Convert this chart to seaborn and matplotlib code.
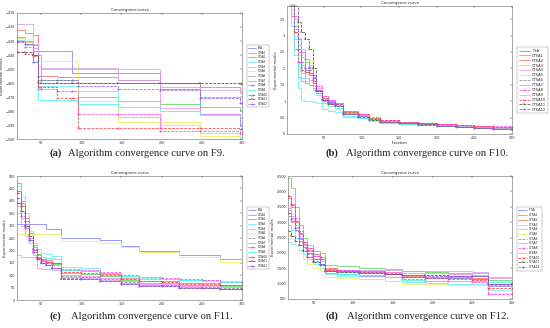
import matplotlib
matplotlib.use('Agg')
import matplotlib.pyplot as plt
import seaborn as sns
from matplotlib.ticker import FuncFormatter

names = ['TSA', 'CTSA1', 'CTSA2', 'CTSA3', 'CTSA4', 'CTSA5', 'CTSA6',
         'CTSA7', 'CTSA8', 'CTSA9', 'CTSA10', 'CTSA11', 'CTSA12']

# F9: step curves, value holds from each iteration until the next
f9_iter = [20, 30, 40, 46, 50, 70, 88, 96, 146, 198, 248, 297, 300]
f9_values = [
    [-430, -431, -437, -437, -437, -437, -453, -453, -453, -464, -482, -491, -491],
    [-427, -430, -433, -458, -458, -458, -458, -470, -473, -475, -477, -480, -480],
    [-422, -424, -426, -440, -455, -456, -456, -456, -458, -460, -463, -466, -466],
    [-429, -432, -440, -462, -462, -462, -462, -466, -484, -490, -496, -499, -499],
    [-428, -430, -435, -448, -450, -450, -450, -450, -450, -478, -482, -485, -485],
    [-428, -431, -444, -444, -444, -444, -444, -473, -488, -488, -498, -498, -498],
    [-430, -432, -440, -460, -460, -460, -460, -460, -460, -460, -470, -472, -472],
    [-418, -418, -432, -449, -449, -449, -449, -449, -458, -463, -465, -467, -467],
    [-431, -434, -440, -464, -464, -466, -466, -482, -482, -494, -494, -496, -496],
    [-430, -433, -445, -472, -472, -472, -472, -475, -477, -480, -483, -484, -484],
    [-438, -439, -441, -463, -463, -471, -471, -492, -492, -492, -492, -493, -493],
    [-438, -438, -440, -460, -460, -460, -460, -460, -460, -460, -460, -461, -461],
    [-430, -432, -445, -455, -458, -458, -458, -462, -464, -465, -471, -474, -474],
]

# F10 (values in units of 10^4)
f10_iter = [1, 6, 10, 15, 20, 25, 30, 35, 40, 48, 56, 65, 75, 95, 110, 125,
            150, 175, 200, 225, 250, 275, 300]
f10_values = [
    [4.2, 3.9, 3.2, 2.5, 2.1, 1.9, 1.8, 1.55, 1.3, 1.05, 0.95, 0.85, 0.62, 0.55, 0.45, 0.38, 0.33, 0.3, 0.26, 0.24, 0.2, 0.17, 0.15],
    [4.2, 4.0, 3.3, 2.7, 2.35, 2.2, 2.0, 1.7, 1.35, 1.1, 0.98, 0.9, 0.66, 0.57, 0.47, 0.4, 0.35, 0.3, 0.27, 0.24, 0.21, 0.18, 0.16],
    [4.2, 3.6, 2.6, 1.75, 1.6, 1.55, 1.5, 1.4, 1.25, 1.0, 0.92, 0.85, 0.6, 0.55, 0.46, 0.38, 0.33, 0.29, 0.25, 0.23, 0.2, 0.17, 0.15],
    [4.2, 3.3, 2.4, 1.4, 1.05, 1.02, 1.0, 0.98, 0.95, 0.75, 0.7, 0.68, 0.52, 0.48, 0.4, 0.34, 0.3, 0.26, 0.23, 0.21, 0.17, 0.14, 0.12],
    [4.2, 4.1, 3.5, 2.9, 2.6, 2.3, 2.1, 1.75, 1.4, 1.15, 1.05, 0.95, 0.7, 0.6, 0.5, 0.42, 0.37, 0.33, 0.3, 0.27, 0.24, 0.21, 0.2],
    [4.2, 4.0, 3.4, 2.75, 2.4, 2.3, 2.2, 1.8, 1.45, 1.1, 1.0, 0.9, 0.64, 0.56, 0.48, 0.4, 0.35, 0.31, 0.27, 0.24, 0.21, 0.18, 0.16],
    [4.2, 3.8, 3.1, 2.4, 2.05, 1.95, 1.85, 1.6, 1.3, 1.05, 0.95, 0.88, 0.63, 0.55, 0.46, 0.39, 0.34, 0.3, 0.26, 0.23, 0.2, 0.17, 0.15],
    [4.2, 3.9, 3.0, 2.2, 1.85, 1.7, 1.65, 1.5, 1.3, 1.05, 0.96, 0.86, 0.63, 0.56, 0.46, 0.38, 0.34, 0.3, 0.27, 0.24, 0.21, 0.18, 0.17],
    [4.2, 4.1, 3.6, 2.9, 2.5, 2.3, 2.05, 1.8, 1.45, 1.15, 1.05, 0.95, 0.7, 0.62, 0.52, 0.44, 0.38, 0.34, 0.3, 0.28, 0.25, 0.23, 0.22],
    [4.2, 3.7, 2.9, 2.0, 1.7, 1.6, 1.5, 1.35, 1.2, 0.95, 0.86, 0.78, 0.56, 0.5, 0.42, 0.35, 0.31, 0.27, 0.24, 0.21, 0.18, 0.15, 0.13],
    [4.2, 3.95, 3.1, 2.2, 1.95, 1.9, 1.85, 1.6, 1.35, 1.1, 1.02, 0.92, 0.68, 0.6, 0.5, 0.43, 0.37, 0.33, 0.29, 0.27, 0.24, 0.22, 0.21],
    [4.2, 4.2, 3.9, 3.4, 3.1, 2.9, 2.6, 2.0, 1.3, 1.05, 0.9, 0.85, 0.6, 0.52, 0.44, 0.37, 0.32, 0.29, 0.25, 0.22, 0.18, 0.15, 0.13],
    [4.2, 4.0, 3.3, 2.6, 2.2, 2.0, 1.95, 1.7, 1.35, 1.08, 0.98, 0.9, 0.62, 0.54, 0.45, 0.37, 0.32, 0.28, 0.25, 0.22, 0.19, 0.16, 0.14],
]

# F11
f11_iter = [20, 25, 30, 35, 40, 45, 50, 56, 63, 75, 100, 123, 150, 172, 200,
            222, 250, 272, 300]
f11_values = [
    [306, 306, 306, 306, 306, 306, 306, 288, 288, 248, 248, 241, 218, 198, 198, 181, 181, 164, 164],
    [440, 380, 320, 260, 215, 185, 165, 155, 145, 108, 104, 96, 82, 70, 68, 62, 60, 55, 55],
    [470, 400, 330, 270, 220, 180, 165, 160, 150, 120, 118, 105, 90, 78, 76, 70, 68, 62, 62],
    [460, 420, 350, 280, 230, 205, 190, 185, 178, 132, 131, 107, 95, 87, 86, 80, 79, 76, 76],
    [350, 300, 260, 230, 200, 170, 150, 140, 130, 100, 96, 88, 76, 66, 64, 58, 56, 52, 52],
    [268, 268, 265, 265, 265, 265, 265, 265, 265, 239, 239, 228, 212, 194, 194, 172, 172, 154, 154],
    [390, 350, 300, 240, 200, 175, 160, 150, 140, 95, 92, 84, 72, 62, 60, 54, 52, 48, 48],
    [380, 330, 290, 250, 180, 128, 127, 125, 120, 92, 90, 80, 70, 60, 58, 52, 50, 46, 46],
    [440, 390, 320, 250, 200, 175, 160, 155, 150, 125, 122, 112, 100, 92, 90, 84, 82, 72, 72],
    [180, 175, 172, 172, 172, 172, 172, 170, 165, 120, 118, 110, 98, 86, 84, 80, 78, 74, 74],
    [430, 380, 300, 240, 195, 170, 158, 155, 150, 112, 110, 100, 86, 76, 74, 66, 64, 60, 60],
    [390, 360, 300, 260, 205, 170, 150, 140, 130, 85, 84, 75, 64, 56, 55, 50, 48, 44, 44],
    [410, 340, 290, 240, 195, 165, 150, 140, 130, 88, 86, 78, 66, 58, 56, 50, 48, 45, 45],
]

# F12
f12_iter = [18, 22, 27, 32, 37, 42, 50, 58, 65, 80, 107, 140, 162, 190, 220,
            250, 270, 300]
f12_values = [
    [3300, 3050, 2750, 2450, 2200, 2000, 1800, 1650, 1350, 1300, 1250, 1230, 1200, 1180, 1170, 1160, 920, 920],
    [4450, 4100, 3500, 2900, 2500, 2250, 2050, 2000, 1600, 1560, 1520, 1480, 1400, 1380, 1350, 1330, 1130, 1130],
    [3800, 3500, 3000, 2600, 2300, 2100, 1900, 1800, 1500, 1450, 1420, 1380, 1250, 1220, 1200, 1180, 1000, 1000],
    [2350, 2300, 2250, 2100, 1950, 1800, 1650, 1500, 1300, 1250, 1150, 1100, 1050, 1020, 1000, 980, 780, 780],
    [3400, 3150, 2850, 2550, 2300, 2100, 1900, 1750, 1450, 1420, 1400, 1380, 1350, 1330, 1310, 1290, 1180, 1180],
    [2600, 2450, 2250, 2000, 1800, 1650, 1500, 1400, 1200, 1180, 1160, 1100, 1000, 980, 960, 940, 700, 700],
    [3200, 3000, 2700, 2400, 2150, 1950, 1750, 1650, 1400, 1380, 1330, 1300, 1200, 1180, 1170, 1160, 950, 950],
    [3450, 3200, 2900, 2600, 2350, 2150, 1950, 1800, 1480, 1450, 1440, 1430, 1420, 1410, 1400, 1380, 1200, 1200],
    [3850, 3600, 3150, 2700, 2350, 2100, 1900, 1800, 1480, 1440, 1400, 1300, 1150, 1100, 1080, 1050, 650, 650],
    [2900, 2750, 2500, 2250, 2050, 1850, 1700, 1600, 1350, 1300, 1280, 1200, 1120, 1100, 1090, 1080, 1060, 1060],
    [3850, 3550, 3050, 2650, 2350, 2150, 1950, 1850, 1450, 1400, 1370, 1320, 1200, 1170, 1150, 1120, 850, 850],
    [2700, 2550, 2400, 2250, 2050, 1850, 1700, 1600, 1400, 1380, 1350, 1320, 1280, 1270, 1260, 1250, 980, 980],
    [3300, 3100, 2800, 2500, 2250, 2050, 1800, 1650, 1420, 1400, 1370, 1330, 1280, 1260, 1250, 1240, 990, 990],
]

colors = ['#7f7fff', '#5ad65a', '#ff6b6b', '#5ff0f0', '#f08cf0', '#eded5a', '#8a8a8a',
          '#c9a0ee', '#ff40ff', '#40f5f5', '#ff4040', '#505050', '#9a5af0']
markers = [None, None, None, None, None, None, None, None, '*', None, 'x', '+', '*']
styles = ['-', '-', '-', '-', '-', '-', '--', '-', '--', '-', '--', '--', '--']

sns.set_style('white')
plt.rcParams['font.family'] = ['DejaVu Sans']

fig = plt.figure(figsize=(5.5, 3.28), dpi=100)
W, H = 550.0, 328.0


def axes_px(x0, y0, x1, y1):
    return fig.add_axes([x0 / W, 1 - y1 / H, (x1 - x0) / W, (y1 - y0) / H])


def draw_panel(ax, iters, values, xlim, ylim, yticks, leg_y, leg_fs):
    for i, name in enumerate(names):
        sns.lineplot(x=iters, y=values[i], ax=ax, color=colors[i], lw=0.55,
                     ls=styles[i], drawstyle='steps-post', marker=markers[i],
                     markersize=1.6, mec=colors[i], mew=0.3, label=name)
    ax.set_xlim(*xlim)
    ax.set_ylim(*ylim)
    ax.set_xticks([50, 100, 150, 200, 250, 300])
    ax.set_yticks(yticks)
    ax.tick_params(direction='in', length=1.5, width=0.3, labelsize=2.4, pad=1.2,
                   top=True, right=True)
    for s in ax.spines.values():
        s.set_linewidth(0.4)
        s.set_color('#666666')
    ax.set_title('Convergence curve', fontsize=2.8, pad=1.5)
    ax.set_ylabel('Experimental results', fontsize=2.6, labelpad=1.5)
    leg = ax.legend(loc='center left', bbox_to_anchor=(1.015, leg_y), fontsize=leg_fs,
                    handlelength=3.0, labelspacing=0.25, borderpad=0.5,
                    handletextpad=0.6, fancybox=False, edgecolor='#888888',
                    framealpha=1)
    leg.get_frame().set_linewidth(0.3)


ax_a = axes_px(17, 13, 242, 139)
draw_panel(ax_a, f9_iter, f9_values, (20, 300), (-500, -410),
           [-500, -490, -480, -470, -460, -450, -440, -430, -420, -410], 0.5, 1.9)

ax_b = axes_px(287, 6, 512, 134)
draw_panel(ax_b, f10_iter, f10_values, (1, 300), (0, 3.9),
           [0, 0.5, 1, 1.5, 2, 2.5, 3, 3.5], 0.42, 2.6)
ax_b.yaxis.set_major_formatter(FuncFormatter(lambda v, p: '%g' % v))
ax_b.set_xlabel('Iteration', fontsize=2.6, labelpad=1)
ax_b.text(0.005, 1.0, r'$\times10^{4}$', transform=ax_b.transAxes, fontsize=2.2,
          va='center', ha='left')

ax_c = axes_px(17, 176, 242, 300)
draw_panel(ax_c, f11_iter, f11_values, (20, 300), (0, 500),
           [0, 50, 100, 150, 200, 250, 300, 350, 400, 450, 500], 0.5, 1.9)

ax_d = axes_px(288, 176, 512, 299)
draw_panel(ax_d, f12_iter, f12_values, (18, 300), (500, 4500),
           [500, 1000, 1500, 2000, 2500, 3000, 3500, 4000, 4500], 0.49, 2.1)
ax_d.yaxis.set_major_formatter(FuncFormatter(lambda v, p: '{:,.0f}'.format(v)))

captions = [('(a)', 'Algorithm convergence curve on F9.', 49, 68, 153),
            ('(b)', 'Algorithm convergence curve on F10.', 326, 346, 153),
            ('(c)', 'Algorithm convergence curve on F11.', 50, 71, 316.5),
            ('(d)', 'Algorithm convergence curve on F12.', 325, 347, 316.5)]
for tag, txt, xt, xs, yc in captions:
    fig.text(xt / W, 1 - yc / H, tag, fontsize=7.7, fontweight='bold',
             family='Liberation Serif', ha='left', va='center')
    fig.text(xs / W, 1 - yc / H, txt, fontsize=7.7, family='Liberation Serif',
             ha='left', va='center')

fig.savefig('out.png', dpi=100)
